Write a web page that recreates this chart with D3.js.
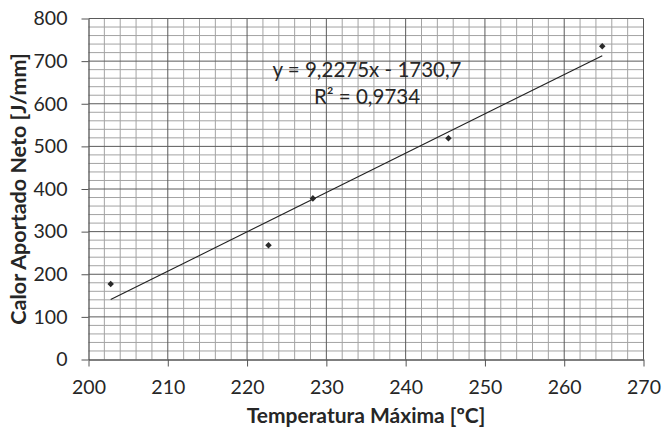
<!DOCTYPE html>
<html>
<head>
<meta charset="utf-8">
<script src="https://cdn.jsdelivr.net/npm/d3@7"></script>
<style>
  body { margin: 0; background: #fff; }
  text { font-family: Lato, "Open Sans", sans-serif; fill: #262626; }
</style>
</head>
<body>
<svg id="chart" width="662" height="435"></svg>
<script>
// Data points
const temps = [202.8, 222.7, 228.3, 245.4, 264.8];   // Temperatura Máxima [ºC]
const heat  = [177, 268, 378, 519, 735];             // Calor Aportado Neto [J/mm]
// Trend line shown on the chart
const slope = 9.2275, intercept = -1730.7;
const eqLines = ['y = 9,2275x - 1730,7', 'R² = 0,9734'];
const xTicks = [200, 210, 220, 230, 240, 250, 260, 270];
const yTicks = [0, 100, 200, 300, 400, 500, 600, 700, 800];

const
  pLeft = 88.5, pRight = 643.5,   // plot area
  pTop = 18.5, pBottom = 359.5;

const svg = d3.select('#chart');

const x = d3.scaleLinear([200, 270], [pLeft, pRight]);
const y = d3.scaleLinear([0, 800], [pBottom, pTop]);

// minor grid
svg.append('g').selectAll('line')
  .data(d3.range(202, 270, 2).filter(v => v % 10 != 0))
  .join('line')
  .attr('x1', d => x(d)).attr('x2', d => x(d))
  .attr('y1', pTop).attr('y2', pBottom)
  .attr('stroke', '#a3a3a3').attr('stroke-width', 1);
svg.append('g').selectAll('line')
  .data(d3.range(20, 800, 20).filter(v => v % 100 != 0))
  .join('line')
  .attr('y1', d => y(d)).attr('y2', d => y(d))
  .attr('x1', pLeft).attr('x2', pRight)
  .attr('stroke', '#a3a3a3').attr('stroke-width', 1);

// major grid
svg.append('g').selectAll('line')
  .data(xTicks.slice(1))
  .join('line')
  .attr('x1', d => x(d)).attr('x2', d => x(d))
  .attr('y1', pTop).attr('y2', pBottom)
  .attr('stroke', '#5a5a5a').attr('stroke-width', 1);
svg.append('g').selectAll('line')
  .data(yTicks.slice(1))
  .join('line')
  .attr('y1', d => y(d)).attr('y2', d => y(d))
  .attr('x1', pLeft).attr('x2', pRight)
  .attr('stroke', '#5a5a5a').attr('stroke-width', 1);

// axes
const xAxis = svg.append('g')
  .attr('transform', 'translate(0,' + pBottom + ')')
  .call(d3.axisBottom(x).tickValues(xTicks).tickSize(7).tickPadding(14).tickSizeOuter(0));
const yAxis = svg.append('g')
  .attr('transform', 'translate(' + pLeft + ',0)')
  .call(d3.axisLeft(y).tickValues(yTicks).tickSize(7).tickPadding(14).tickSizeOuter(0));
[xAxis, yAxis].forEach(a => {
  a.select('.domain').attr('stroke', '#555').attr('stroke-width', 1.3);
  a.selectAll('.tick line').attr('stroke', '#555');
  a.selectAll('.tick text').attr('font-size', 19.5).style('font-family', 'Lato, sans-serif').attr('fill', '#262626');
});

// trend line over the data range
const ext = d3.extent(temps);
svg.append('line')
  .attr('x1', x(ext[0])).attr('y1', y(slope * ext[0] + intercept))
  .attr('x2', x(ext[1])).attr('y2', y(slope * ext[1] + intercept))
  .attr('stroke', '#222').attr('stroke-width', 1.1);

// points
svg.append('g').selectAll('path')
  .data(temps.map((t, i) => [t, heat[i]]))
  .join('path')
  .attr('d', d3.symbol(d3.symbolDiamond2, 27))
  .attr('transform', d => 'translate(' + x(d[0]) + ',' + y(d[1]) + ')')
  .attr('fill', '#2a2a2a');

// equation
svg.append('g').selectAll('text')
  .data(eqLines)
  .join('text')
  .attr('x', 367).attr('y', (d, i) => 77 + i * 27)
  .attr('text-anchor', 'middle')
  .attr('font-size', 20.5)
  .text(d => d);

// axis titles
svg.append('text')
  .attr('x', (pLeft + pRight) / 2).attr('y', 423)
  .attr('text-anchor', 'middle')
  .attr('font-size', 21).attr('font-weight', 'bold')
  .text('Temperatura Máxima [ºC]');
svg.append('text')
  .attr('transform', 'translate(25.5,' + (pTop + pBottom) / 2 + ') rotate(-90)')
  .attr('text-anchor', 'middle')
  .attr('font-size', 21.5).attr('font-weight', 'bold')
  .text('Calor Aportado Neto [J/mm]');
</script>
</body>
</html>
